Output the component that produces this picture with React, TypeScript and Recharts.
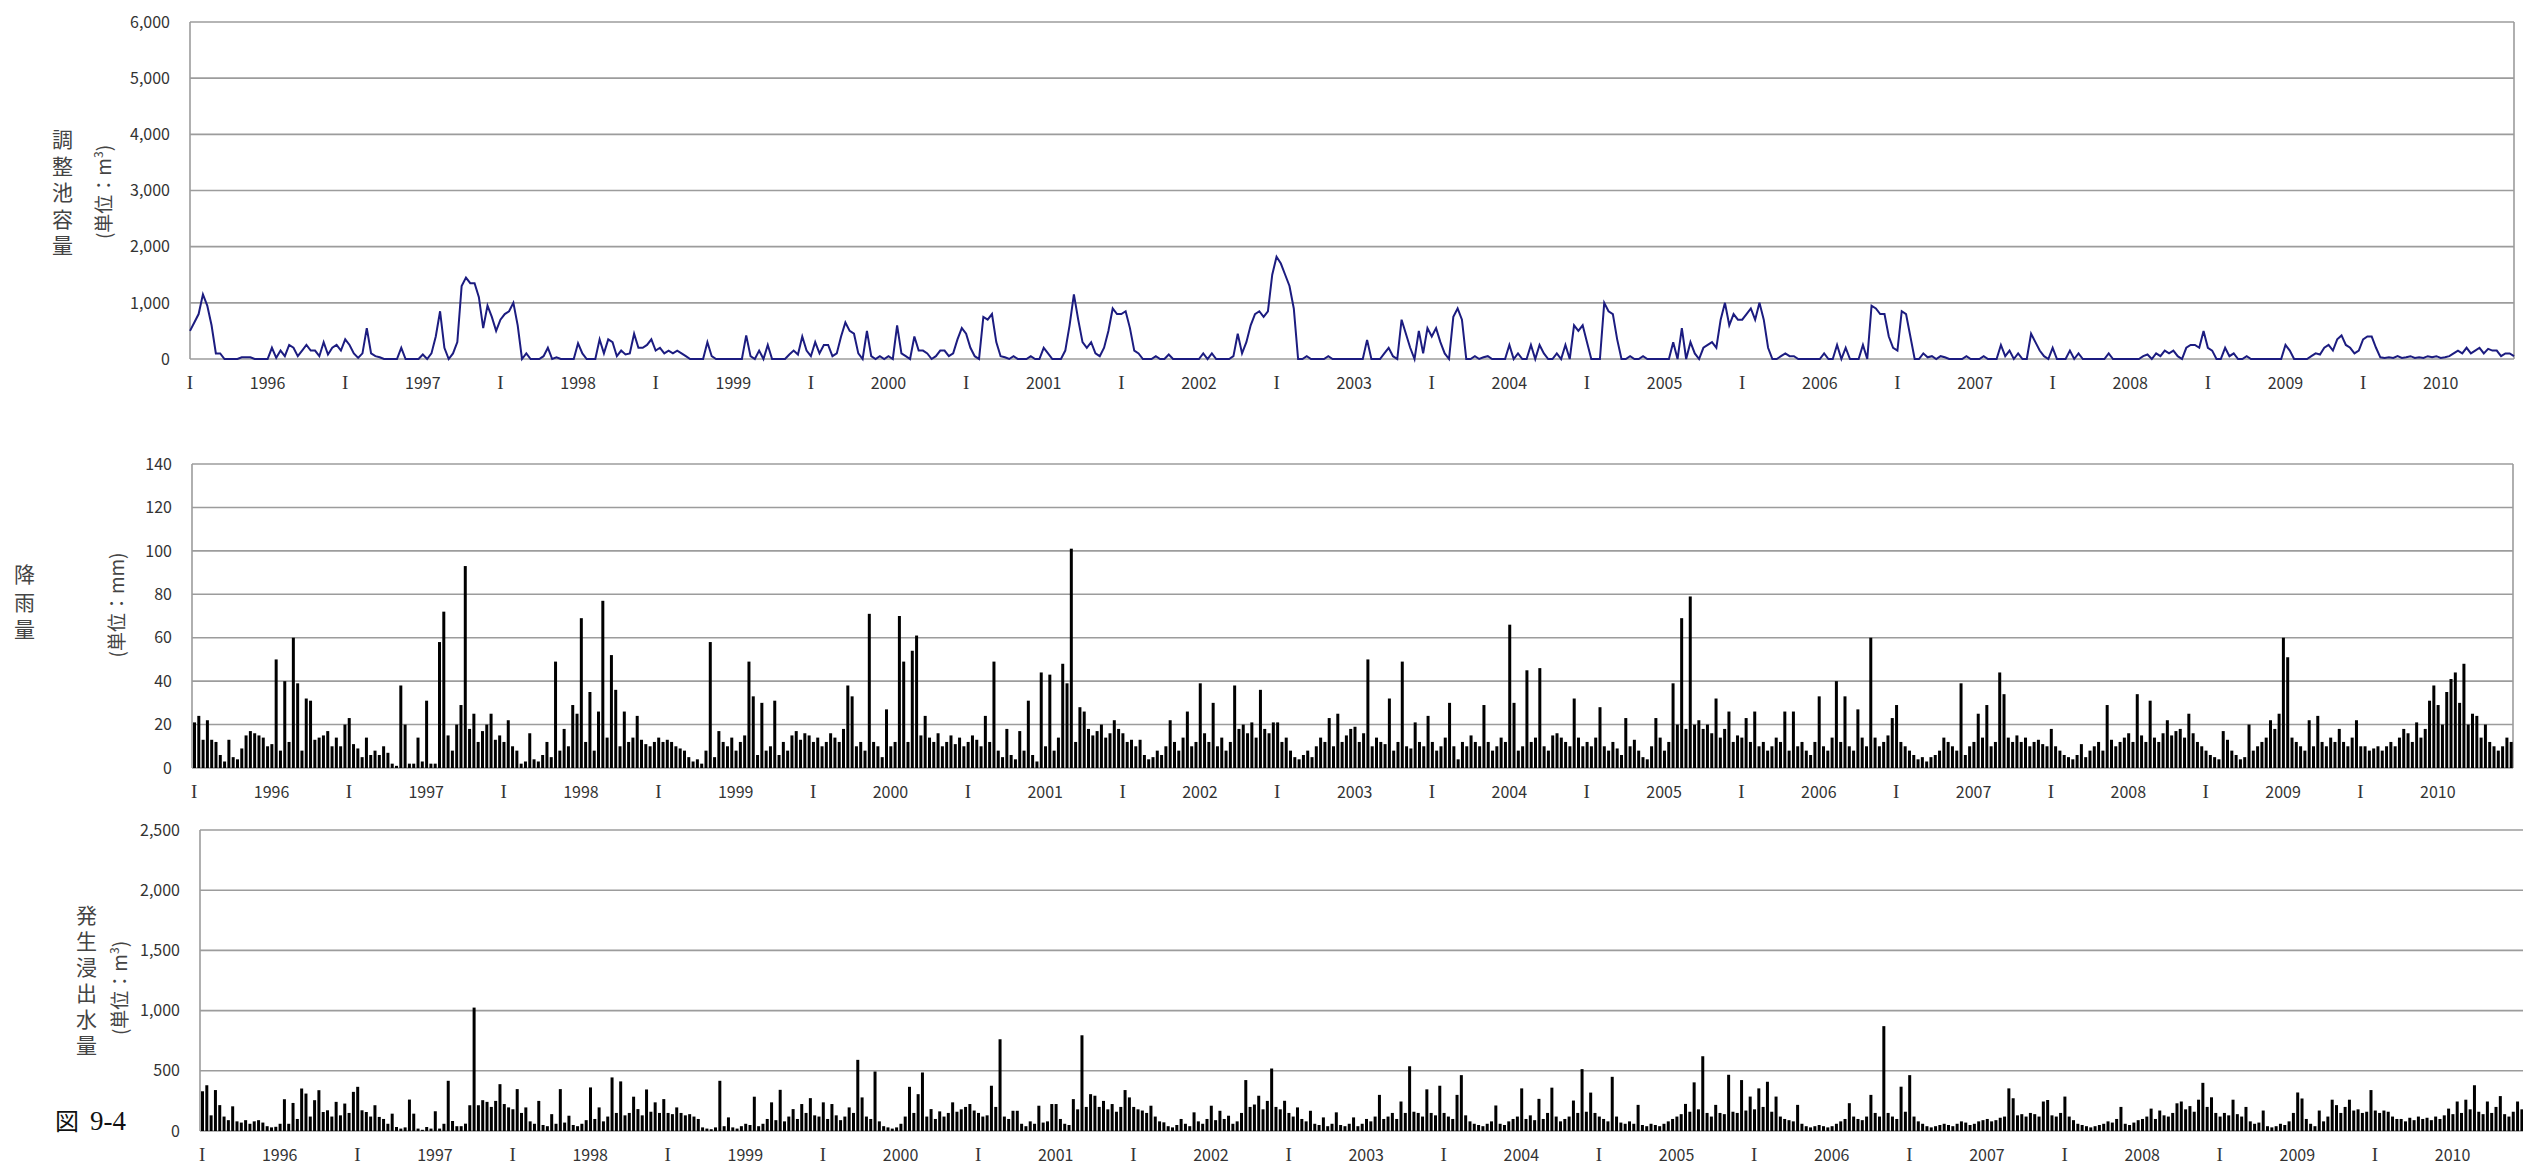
import React from 'react';
import { LineChart, Line, BarChart, Bar, XAxis, YAxis, CartesianGrid } from 'recharts';

// 15 fiscal years, each split into 36 ten-day periods
const years = [1996, 1997, 1998, 1999, 2000, 2001, 2002, 2003, 2004, 2005, 2006, 2007, 2008, 2009, 2010];
const PERIODS = 36;

// 調整池容量 (m3)
const volume = [
  500, 650, 800, 1150, 950, 600, 100, 100, 0, 0, 0, 0, 30, 30, 30, 0, 0, 0, 0, 200, 20, 150, 50, 250, 200, 50, 150, 250, 150, 150, 50, 300, 80, 200, 250, 150,
  350, 250, 100, 20, 100, 550, 100, 50, 30, 0, 0, 0, 0, 200, 0, 0, 0, 0, 80, 0, 100, 400, 850, 200, 0, 100, 300, 1300, 1450, 1350, 1350, 1100, 550, 950, 750, 500,
  700, 800, 850, 1000, 600, 0, 100, 0, 0, 0, 50, 200, 0, 30, 0, 0, 0, 0, 280, 100, 0, 0, 0, 350, 100, 350, 300, 50, 150, 80, 100, 450, 200, 200, 250, 350,
  150, 200, 100, 150, 100, 150, 100, 50, 0, 0, 0, 0, 300, 50, 0, 0, 0, 0, 0, 0, 0, 420, 50, 0, 150, 0, 250, 0, 0, 0, 0, 80, 150, 80, 400, 150,
  50, 300, 100, 250, 250, 50, 100, 400, 650, 500, 450, 100, 0, 500, 50, 0, 50, 0, 50, 0, 600, 100, 50, 0, 400, 150, 150, 100, 0, 50, 150, 150, 50, 100, 350, 550,
  450, 200, 50, 0, 750, 700, 800, 300, 50, 30, 0, 50, 0, 0, 0, 50, 0, 0, 200, 100, 0, 0, 0, 150, 600, 1150, 700, 300, 200, 300, 100, 50, 200, 500, 900, 800,
  800, 850, 550, 150, 100, 0, 0, 0, 50, 0, 0, 80, 0, 0, 0, 0, 0, 0, 0, 100, 0, 100, 0, 0, 0, 0, 50, 450, 100, 300, 600, 800, 850, 750, 850, 1500,
  1820, 1700, 1500, 1300, 900, 0, 0, 50, 0, 0, 0, 0, 50, 0, 0, 0, 0, 0, 0, 0, 0, 340, 0, 0, 0, 100, 200, 50, 0, 700, 450, 200, 0, 500, 100, 550,
  400, 550, 300, 100, 0, 750, 900, 700, 0, 0, 50, 0, 30, 50, 0, 0, 0, 0, 250, 0, 100, 0, 0, 250, 0, 250, 100, 0, 0, 100, 0, 250, 0, 600, 500, 600,
  300, 0, 0, 0, 1000, 850, 800, 350, 0, 0, 50, 0, 0, 50, 0, 0, 0, 0, 0, 0, 300, 0, 550, 0, 300, 100, 0, 200, 250, 300, 200, 700, 1000, 600, 800, 700,
  700, 800, 900, 700, 1000, 700, 200, 0, 0, 50, 100, 50, 50, 0, 0, 0, 0, 0, 0, 100, 0, 0, 250, 0, 200, 0, 0, 0, 250, 0, 950, 900, 800, 800, 400, 200,
  150, 850, 800, 400, 0, 0, 100, 30, 50, 0, 50, 30, 0, 0, 0, 0, 50, 0, 0, 0, 50, 0, 0, 0, 250, 50, 150, 0, 100, 0, 0, 450, 300, 150, 50, 0,
  200, 0, 0, 0, 150, 0, 100, 0, 0, 0, 0, 0, 0, 100, 0, 0, 0, 0, 0, 0, 0, 50, 80, 0, 100, 50, 150, 100, 150, 50, 0, 200, 250, 250, 200, 500,
  200, 150, 0, 0, 200, 50, 100, 0, 0, 50, 0, 0, 0, 0, 0, 0, 0, 0, 250, 150, 0, 0, 0, 0, 50, 100, 80, 200, 250, 150, 350, 420, 250, 200, 100, 150,
  350, 400, 400, 200, 30, 20, 30, 20, 50, 20, 30, 50, 20, 30, 20, 50, 30, 50, 20, 30, 50, 100, 150, 100, 200, 100, 150, 200, 100, 180, 150, 150, 50, 100, 100, 50,
];

// 降雨量 (mm)
const rainfall = [
  21, 24, 13, 22, 13, 12, 6, 3, 13, 5, 4, 9, 15, 17, 16, 15, 14, 10, 11, 50, 8, 40, 12, 60, 39, 8, 32, 31, 13, 14, 15, 17, 10, 14, 10, 20,
  23, 11, 9, 5, 14, 6, 8, 6, 10, 7, 2, 1, 38, 20, 2, 2, 14, 3, 31, 2, 2, 58, 72, 15, 8, 20, 29, 93, 18, 25, 12, 17, 20, 25, 13, 15,
  12, 22, 10, 8, 2, 3, 16, 4, 3, 6, 12, 5, 49, 8, 18, 10, 29, 25, 69, 12, 35, 8, 26, 77, 14, 52, 36, 10, 26, 12, 14, 24, 13, 11, 10, 12,
  14, 12, 13, 12, 10, 9, 8, 5, 3, 4, 2, 8, 58, 5, 17, 12, 10, 14, 8, 12, 15, 49, 33, 6, 30, 8, 10, 31, 6, 12, 8, 15, 17, 13, 16, 15,
  12, 14, 10, 12, 16, 14, 12, 18, 38, 33, 10, 12, 8, 71, 12, 10, 5, 27, 10, 12, 70, 49, 12, 54, 61, 15, 24, 14, 12, 16, 10, 12, 15, 11, 14, 10,
  12, 15, 13, 10, 24, 12, 49, 8, 5, 18, 6, 4, 17, 8, 31, 6, 3, 44, 10, 43, 8, 14, 48, 39, 101, 12, 28, 26, 18, 15, 17, 20, 14, 16, 22, 18,
  16, 12, 13, 10, 13, 6, 4, 5, 8, 6, 10, 22, 12, 8, 14, 26, 10, 12, 39, 16, 12, 30, 10, 14, 8, 12, 38, 18, 20, 16, 21, 14, 36, 18, 16, 21,
  21, 12, 14, 8, 5, 4, 6, 8, 5, 10, 14, 12, 23, 10, 25, 12, 15, 18, 19, 12, 16, 50, 10, 14, 12, 11, 32, 8, 12, 49, 10, 9, 21, 12, 10, 24,
  12, 8, 10, 14, 30, 10, 4, 12, 10, 15, 12, 10, 29, 12, 8, 10, 14, 12, 66, 30, 8, 10, 45, 12, 14, 46, 10, 8, 15, 16, 14, 12, 10, 32, 14, 10,
  12, 10, 14, 28, 10, 8, 12, 9, 6, 23, 10, 13, 8, 5, 4, 10, 23, 14, 8, 12, 39, 20, 69, 18, 79, 20, 22, 18, 20, 16, 32, 14, 18, 26, 12, 15,
  14, 23, 12, 26, 10, 12, 8, 10, 14, 12, 26, 8, 26, 10, 12, 8, 6, 12, 33, 10, 8, 14, 40, 12, 33, 10, 8, 27, 14, 10, 60, 14, 10, 12, 15, 23,
  29, 12, 10, 8, 6, 4, 5, 3, 5, 6, 8, 14, 12, 10, 8, 39, 6, 10, 12, 25, 14, 29, 10, 12, 44, 34, 14, 12, 15, 12, 14, 10, 12, 13, 11, 10,
  18, 10, 8, 6, 5, 4, 6, 11, 5, 8, 10, 12, 8, 29, 13, 10, 12, 14, 16, 12, 34, 15, 12, 31, 14, 12, 16, 22, 15, 17, 18, 14, 25, 16, 12, 10,
  8, 6, 5, 4, 17, 13, 8, 6, 4, 5, 20, 8, 10, 12, 14, 22, 18, 25, 60, 51, 14, 12, 10, 8, 22, 10, 24, 12, 10, 14, 12, 18, 12, 10, 14, 22,
  10, 10, 8, 9, 10, 8, 10, 12, 10, 14, 18, 16, 12, 21, 14, 18, 31, 38, 29, 20, 35, 41, 44, 30, 48, 20, 25, 24, 14, 20, 12, 10, 8, 10, 14, 12,
];

// 発生浸出水量 (m3)
const leachate = [
  330, 380, 130, 340, 215, 120, 90, 205, 80, 70, 90, 60, 80, 90, 70, 40, 30, 35, 60, 264, 60, 233, 100, 353, 311, 120, 256, 339, 158, 172, 120, 242, 130, 228, 150, 325,
  367, 172, 158, 120, 214, 117, 100, 60, 144, 33, 20, 30, 261, 144, 20, 10, 33, 20, 164, 20, 60, 417, 83, 40, 40, 61, 214, 1025, 214, 256, 242, 200, 250, 389, 224, 196,
  180, 348, 150, 196, 80, 60, 250, 50, 40, 140, 60, 348, 70, 127, 50, 40, 60, 90, 362, 100, 196, 80, 120, 445, 150, 412, 130, 150, 285, 182, 130, 345, 160, 238, 150, 265,
  150, 140, 196, 150, 130, 140, 120, 100, 30, 20, 15, 30, 417, 40, 113, 30, 20, 40, 60, 50, 285, 40, 60, 100, 238, 90, 342, 80, 120, 182, 100, 224, 150, 273, 130, 120,
  238, 100, 224, 130, 90, 120, 196, 150, 591, 279, 120, 100, 494, 80, 40, 30, 20, 30, 60, 120, 367, 150, 306, 486, 120, 182, 100, 163, 120, 150, 238, 160, 180, 200, 224, 170,
  150, 120, 130, 376, 200, 762, 120, 100, 168, 168, 60, 40, 80, 60, 210, 70, 80, 224, 224, 100, 60, 50, 265, 180, 795, 200, 306, 293, 200, 250, 180, 224, 160, 200, 340, 279,
  200, 180, 170, 150, 210, 120, 80, 72, 40, 30, 50, 100, 60, 40, 155, 80, 60, 100, 210, 90, 168, 100, 127, 60, 80, 150, 423, 200, 220, 293, 180, 250, 519, 200, 180, 251,
  150, 120, 196, 100, 80, 168, 60, 50, 113, 40, 60, 155, 50, 40, 60, 113, 40, 60, 100, 80, 120, 300, 100, 120, 150, 100, 245, 150, 538, 160, 150, 120, 346, 150, 130, 376,
  150, 120, 100, 300, 464, 130, 80, 60, 50, 40, 60, 80, 212, 60, 50, 80, 100, 120, 354, 100, 130, 90, 267, 100, 150, 360, 120, 80, 100, 120, 253, 150, 514, 160, 319, 150,
  120, 100, 80, 450, 120, 70, 60, 80, 60, 217, 50, 40, 60, 50, 40, 60, 80, 100, 120, 140, 225, 160, 404, 180, 621, 150, 120, 217, 150, 140, 467, 160, 150, 423, 170, 286,
  180, 354, 200, 409, 160, 286, 120, 100, 90, 80, 217, 60, 40, 30, 40, 50, 40, 30, 40, 60, 80, 100, 231, 120, 100, 90, 120, 300, 150, 120, 871, 150, 120, 100, 368, 160,
  464, 120, 80, 60, 40, 30, 40, 50, 60, 50, 40, 60, 80, 70, 50, 60, 80, 90, 100, 80, 90, 110, 120, 354, 272, 130, 140, 120, 150, 140, 120, 245, 258, 130, 120, 150,
  286, 120, 90, 60, 50, 40, 30, 40, 50, 60, 80, 70, 100, 200, 60, 50, 70, 90, 100, 120, 186, 100, 170, 130, 120, 150, 230, 245, 180, 207, 160, 260, 400, 200, 280, 150,
  120, 150, 130, 260, 140, 120, 200, 80, 60, 70, 170, 40, 30, 40, 60, 50, 80, 150, 320, 270, 100, 60, 40, 170, 80, 120, 260, 215, 150, 200, 260, 170, 180, 150, 160, 340,
  170, 150, 170, 160, 120, 100, 100, 80, 110, 90, 120, 100, 110, 90, 120, 100, 130, 186, 140, 245, 150, 260, 180, 380, 160, 140, 245, 150, 200, 290, 140, 120, 160, 245, 180, 120,
];

const volumeTicks = [0, 1000, 2000, 3000, 4000, 5000, 6000];
const rainTicks = [0, 20, 40, 60, 80, 100, 120, 140];
const leachTicks = [0, 500, 1000, 1500, 2000, 2500];

const FONT = "'Noto Sans CJK JP', 'Liberation Sans', sans-serif";
const SERIF = "'Liberation Serif', 'DejaVu Serif', serif";
const GRID = '#9c9c9c';

const rows = years.flatMap((year, yi) =>
  Array.from({ length: PERIODS }, (_, b) => {
    const i = yi * PERIODS + b;
    return { key: `${year}-${b}`, volume: volume[i], rain: rainfall[i], leach: leachate[i] };
  })
);

// "I" at each year boundary, year number at mid-year
const xTicks = years.flatMap((y) => [`${y}-0`, `${y}-18`]);

const fmt = (v: number) => v.toLocaleString('en-US');

function YearTick(props: any) {
  const { x, y, payload } = props;
  const [yr, b] = String(payload.value).split('-');
  if (b === '0') {
    return (
      <text x={x} y={y + 22} textAnchor="middle" fontFamily={SERIF} fontSize={19} fill="#333">
        I
      </text>
    );
  }
  return (
    <text x={x} y={y + 22} textAnchor="middle" fontFamily={FONT} fontSize={16} fill="#333">
      {yr}
    </text>
  );
}

const borderLines = (arg: any) => (arg && arg.offset ? [arg.offset.left, arg.offset.left + arg.offset.width] : []);

function Grid() {
  return <CartesianGrid stroke={GRID} strokeWidth={1.6} verticalCoordinatesGenerator={borderLines} />;
}

function VText({ text, cx, cy, step }: { text: string; cx: number; cy: number; step: number }) {
  return (
    <div
      style={{
        position: 'absolute',
        left: cx,
        top: cy,
        transform: 'translate(-50%, -50%)',
        writingMode: 'vertical-rl',
        textOrientation: 'upright',
        fontFamily: FONT,
        fontSize: 21,
        lineHeight: 1,
        letterSpacing: step - 21,
        color: '#444',
        whiteSpace: 'nowrap',
      }}
    >
      {text}
    </div>
  );
}

function UnitText({ unit, cx, cy, cube }: { unit: string; cx: number; cy: number; cube?: boolean }) {
  return (
    <div
      style={{
        position: 'absolute',
        left: cx,
        top: cy,
        transform: 'translate(-50%, -50%) rotate(-90deg)',
        fontFamily: FONT,
        fontSize: 19,
        lineHeight: 1,
        color: '#444',
        whiteSpace: 'nowrap',
      }}
    >
      (単位：{unit}
      {cube ? <span style={{ fontSize: 12, verticalAlign: 'super' }}>3</span> : null})
    </div>
  );
}

const yTick = { fontFamily: FONT, fontSize: 16, fill: '#333' };

export default function App() {
  return (
    <div style={{ position: 'absolute', left: 0, top: 0, width: 2523, height: 1167, overflow: 'hidden', background: '#fff' }}>
      <div style={{ position: 'absolute', left: 0, top: 0 }}>
        <LineChart width={2523} height={400} data={rows} margin={{ top: 22, right: 9, bottom: 1, left: 0 }}>
          <Grid />
          <XAxis dataKey="key" ticks={xTicks} interval={0} tick={<YearTick />} tickLine={false} axisLine={false} height={40} />
          <YAxis
            width={190}
            domain={[0, 6000]}
            ticks={volumeTicks}
            tickFormatter={fmt}
            tick={yTick}
            tickSize={0}
            tickMargin={20}
            axisLine={false}
          />
          <Line type="linear" dataKey="volume" stroke="#1c1c80" strokeWidth={2} dot={false} isAnimationActive={false} />
        </LineChart>
      </div>

      <div style={{ position: 'absolute', left: 0, top: 440 }}>
        <BarChart width={2523} height={380} data={rows} margin={{ top: 24, right: 10, bottom: 12, left: 0 }}>
          <Grid />
          <XAxis dataKey="key" ticks={xTicks} interval={0} tick={<YearTick />} tickLine={false} axisLine={false} height={40} />
          <YAxis
            width={192}
            domain={[0, 140]}
            ticks={rainTicks}
            tick={yTick}
            tickSize={0}
            tickMargin={20}
            axisLine={false}
          />
          <Bar dataKey="rain" fill="#000" barSize={3} isAnimationActive={false} />
        </BarChart>
      </div>

      <div style={{ position: 'absolute', left: 0, top: 800 }}>
        <BarChart width={2540} height={367} data={rows} margin={{ top: 30, right: 12, bottom: 0, left: 0 }}>
          <Grid />
          <XAxis dataKey="key" ticks={xTicks} interval={0} tick={<YearTick />} tickLine={false} axisLine={false} height={36} />
          <YAxis
            width={200}
            domain={[0, 2500]}
            ticks={leachTicks}
            tickFormatter={fmt}
            tick={yTick}
            tickSize={0}
            tickMargin={20}
            axisLine={false}
          />
          <Bar dataKey="leach" fill="#000" barSize={3} isAnimationActive={false} />
        </BarChart>
      </div>

      <VText text="調整池容量" cx={62} cy={195} step={26.5} />
      <UnitText unit="m" cube cx={102} cy={192} />

      <VText text="降雨量" cx={24} cy={605} step={27.5} />
      <UnitText unit="mm" cx={115} cy={605} />

      <VText text="発生浸出水量" cx={86} cy={983} step={26} />
      <UnitText unit="m" cube cx={118} cy={988} />

      <div style={{ position: 'absolute', left: 55, top: 1108, fontSize: 24, lineHeight: 1, color: '#111', whiteSpace: 'nowrap' }}>
        <span style={{ fontFamily: FONT }}>図</span>
        <span style={{ fontFamily: SERIF, fontSize: 27, marginLeft: 11 }}>9-4</span>
      </div>
    </div>
  );
}
